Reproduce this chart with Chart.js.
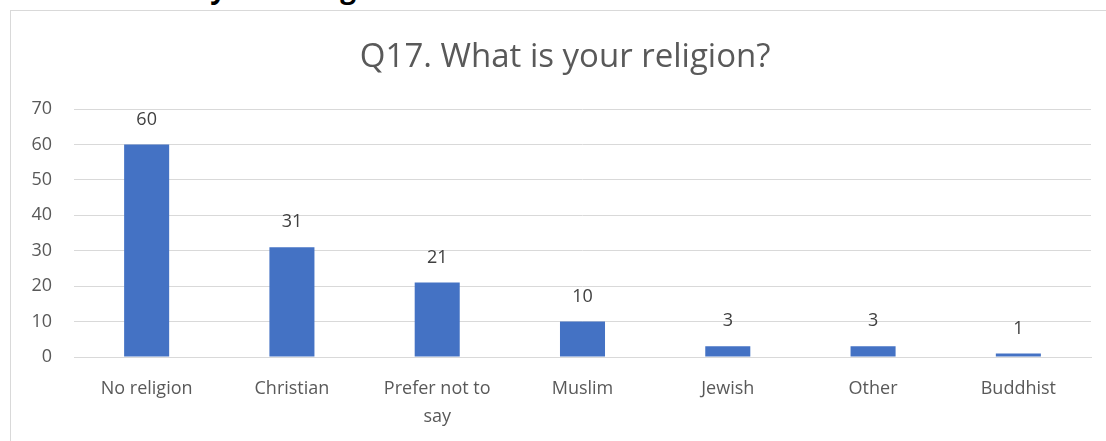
<!DOCTYPE html>
<html>
<head>
<meta charset="utf-8">
<title>Q17. What is your religion?</title>
<script src="https://cdn.jsdelivr.net/npm/chart.js@4.4.1/dist/chart.umd.min.js"></script>
<style>
  html, body { margin: 0; padding: 0; background: #ffffff; overflow: hidden; }
  body { width: 1106px; height: 441px; position: relative; }
  #heading {
    position: absolute; left: 102px; top: -27px;
    font: bold 28px 'Open Sans', sans-serif; line-height: 1; color: #000000;
    white-space: nowrap;
  }
  #frame {
    position: absolute; left: 10px; top: 10px; width: 1200px; height: 500px;
    border: 1px solid #d9d9d9; box-sizing: border-box;
  }
  #wrap { position: absolute; left: 0; top: 0; width: 1106px; height: 441px; }
</style>
</head>
<body>
<div id="heading">Ethnicity and religion</div>
<div id="frame"></div>
<div id="wrap"><canvas id="religionChart"></canvas></div>
<script>
// chart data
const CHART_TITLE = 'Q17. What is your religion?';
const categories = ['No religion', 'Christian', ['Prefer not to', 'say'], 'Muslim', 'Jewish', 'Other', 'Buddhist'];
const counts = [60, 31, 21, 10, 3, 3, 1];
const yTicks = [0, 10, 20, 30, 40, 50, 60, 70];

const BAR_COLOR = '#4472c4';
const GRID_COLOR = '#d9d9d9';
const TEXT_COLOR = '#595959';
const LABEL_COLOR = '#404040';

Chart.defaults.font.family = "'Open Sans', sans-serif";
Chart.defaults.color = TEXT_COLOR;

// value labels above the bars
const valueLabels = {
    id: 'valueLabels',
    afterDatasetsDraw(chart) {
        const ctx = chart.ctx;
        const meta = chart.getDatasetMeta(0);
        ctx.save();
        ctx.font = "18px 'Open Sans', sans-serif";
        ctx.fillStyle = LABEL_COLOR;
        ctx.textAlign = 'center';
        ctx.textBaseline = 'middle';
        meta.data.forEach((bar, i) => {
            ctx.fillText(String(counts[i]), bar.x, bar.y - 25);
        });
        ctx.restore();
    }
};

// chart title, centred a little right of the canvas middle like the original
const chartTitle = {
    id: 'chartTitle',
    afterDraw(chart) {
        const ctx = chart.ctx;
        ctx.save();
        ctx.font = "33px 'Open Sans', sans-serif";
        ctx.fillStyle = TEXT_COLOR;
        ctx.textAlign = 'center';
        ctx.textBaseline = 'middle';
        ctx.fillText(CHART_TITLE, chart.width * 0.511, 58);
        ctx.restore();
    }
};

const ctx = document.getElementById('religionChart').getContext('2d');
new Chart(ctx, {
    type: 'bar',
    data: {
        labels: categories,
        datasets: [{
            data: counts,
            backgroundColor: BAR_COLOR,
            borderWidth: 0,
            barPercentage: 0.31,
            categoryPercentage: 1
        }]
    },
    options: {
        responsive: true,
        maintainAspectRatio: false,
        animation: false,
        layout: { padding: { left: 0, right: 15, top: 109, bottom: 0 } },
        plugins: {
            legend: { display: false },
            tooltip: { enabled: false },
            title: { display: false }
        },
        scales: {
            x: {
                grid: { display: false, drawTicks: false },
                border: { display: true, color: GRID_COLOR, width: 1 },
                ticks: {
                    color: TEXT_COLOR,
                    font: { size: 18, lineHeight: 1.55 },
                    padding: 18,
                    maxRotation: 0,
                    autoSkip: false
                },
                afterFit(scale) { scale.height = 84; }
            },
            y: {
                min: 0,
                max: 70,
                afterBuildTicks(scale) { scale.ticks = yTicks.map(v => ({ value: v })); },
                grid: { color: GRID_COLOR, lineWidth: 1, drawTicks: false },
                border: { display: false },
                ticks: {
                    color: TEXT_COLOR,
                    font: { size: 18 },
                    padding: 22
                },
                afterFit(scale) { scale.width = 74; }
            }
        }
    },
    plugins: [valueLabels, chartTitle]
});
</script>
</body>
</html>
